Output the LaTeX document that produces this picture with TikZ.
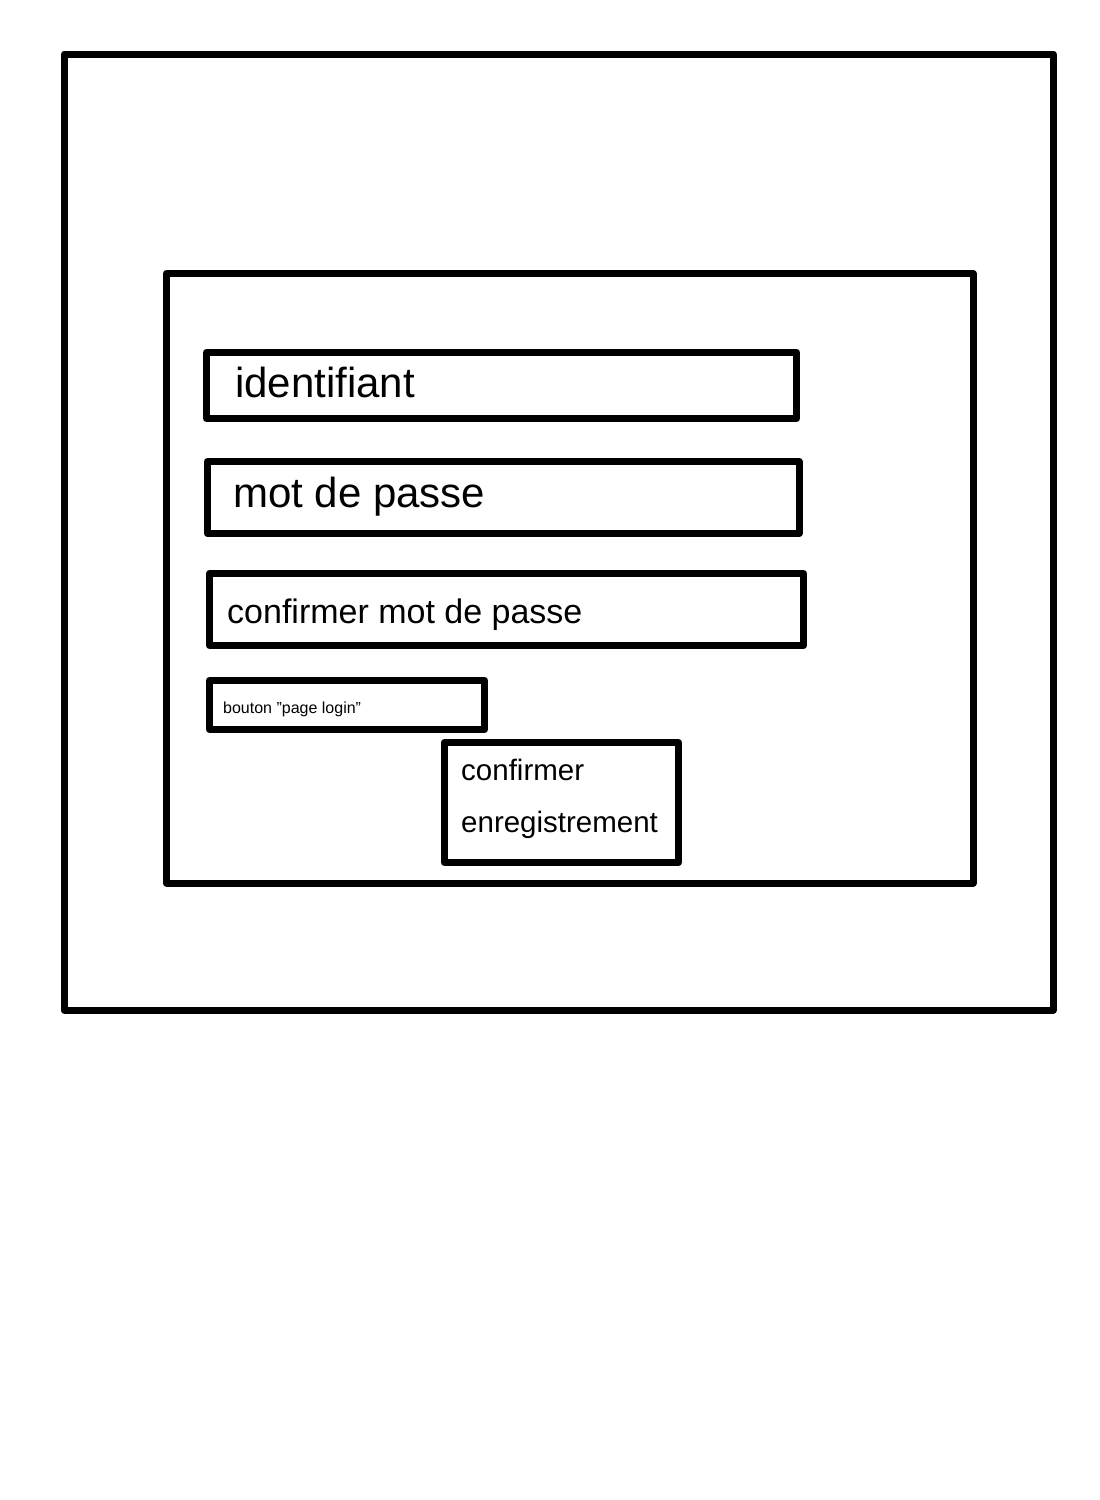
\documentclass[tikz,border=0pt]{standalone}
\usepackage{fontspec}
\setmainfont{Liberation Sans}
\usetikzlibrary{positioning}

\tikzset{
  box/.style={draw, line width=7pt, line join=round, rectangle, inner sep=0pt},
  lbl/.style={anchor=base west, inner sep=0pt},
}

\begin{document}
\begin{tikzpicture}[x=1pt, y=-1pt]
		\useasboundingbox (0,0) rectangle (1100,1500);
		% Frames
		\node[box, minimum width=989pt, minimum height=956pt] (ecran) at (558.7,532) {};
		\node[box, minimum width=806.5pt, minimum height=609.5pt] (form) at (569.75,578.25) {};

		% Fields
		\node[box, minimum width=590pt, minimum height=66pt] (ident) at (501.5,385.5) {};
		\node[box, minimum width=591.5pt, minimum height=72pt] (mdp) at (503.25,497.5) {};
		\node[box, minimum width=594pt, minimum height=72pt] (confmdp) at (506.5,609.5) {};
		\node[box, minimum width=275pt, minimum height=49pt] (login) at (347,705) {};
		\node[box, minimum width=234pt, minimum height=120pt] (enreg) at (561.5,802.5) {};

		% Labels
		\node[lbl, font=\fontsize{42}{50}\selectfont] (identtxt) at (235,397) {identifiant};
		\node[lbl, font=\fontsize{42}{50}\selectfont] (mdptxt) at (233,507) {mot de passe};
		\node[lbl, font=\fontsize{34}{40}\selectfont] (confmdptxt) at (227,623) {confirmer mot de passe};
		\node[lbl, font=\fontsize{16}{19}\selectfont] (logintxt) at (223,713) {bouton ”page login”};
		\node[lbl, font=\fontsize{29.5}{36}\selectfont] (enregtxt1) at (461,780) {confirmer};
		\node[lbl, font=\fontsize{29.5}{36}\selectfont] (enregtxt2) at (461,832) {enregistrement};
	\end{tikzpicture}
\end{document}
